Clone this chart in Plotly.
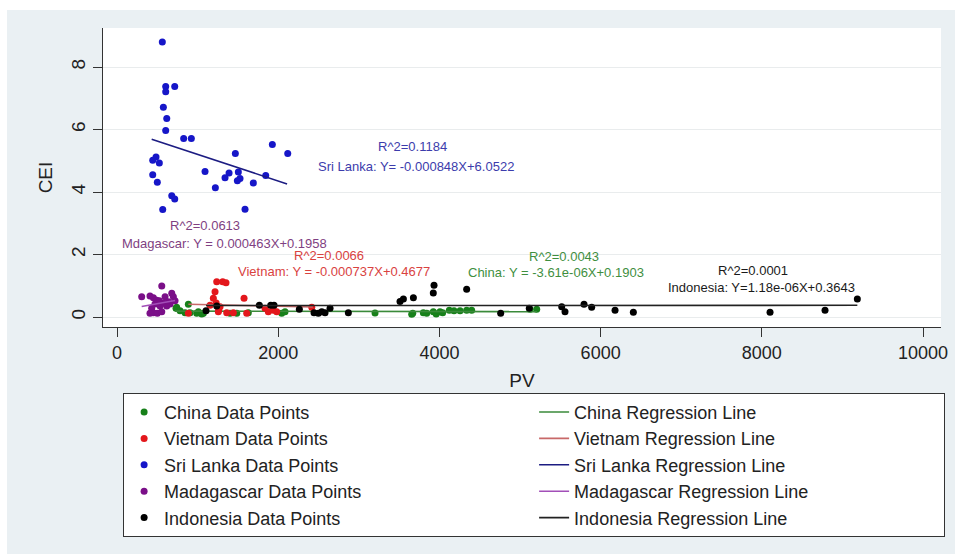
import plotly.graph_objects as go

# ---------------- data ----------------
china_pv = [732, 740, 782, 844, 885, 906, 989, 1009, 1051, 1071, 1402, 1485, 1629, 2043, 2084,
            3201, 3656, 3669, 3800, 3842, 3924, 3960, 4007, 4040, 4123, 4181, 4256, 4338, 4400, 5124, 5207]
china_cei = [0.28, 0.31, 0.20, 0.14, 0.41, 0.14, 0.12, 0.17, 0.10, 0.12, 0.12, 0.12, 0.14, 0.12, 0.17,
             0.13, 0.09, 0.12, 0.14, 0.12, 0.17, 0.10, 0.17, 0.14, 0.22, 0.20, 0.20, 0.22, 0.22, 0.25, 0.25]

vietnam_pv = [885, 1154, 1195, 1216, 1237, 1257, 1278, 1311, 1352, 1361, 1443, 1576, 1609, 1836, 1877,
              1939, 1981, 2416, 1230, 1260]
vietnam_cei = [0.12, 0.38, 0.60, 0.81, 1.13, 0.17, 0.33, 1.13, 1.10, 0.14, 0.14, 0.60, 0.12, 0.28, 0.17,
               0.22, 0.17, 0.31, 0.45, 0.22]

srilanka_pv = [562, 604, 716, 604, 575, 617, 604, 827, 922, 1927, 2118, 1468, 484, 443, 525, 1092,
               443, 1390, 1505, 1340, 1526, 1493, 1845, 1691, 500, 1220, 679, 716, 567, 1588]
srilanka_cei = [8.80, 7.38, 7.38, 7.21, 6.71, 6.35, 5.97, 5.71, 5.71, 5.52, 5.23, 5.23, 5.12, 5.02, 4.93, 4.66,
                4.55, 4.61, 4.64, 4.46, 4.43, 4.36, 4.53, 4.29, 4.31, 4.14, 3.88, 3.78, 3.44, 3.45]

madagascar_pv = [306, 409, 451, 555, 596, 679, 699, 492, 525, 637, 720, 575, 471, 658, 534, 617,
                 430, 451, 500, 555, 409]
madagascar_cei = [0.65, 0.67, 0.62, 0.99, 0.65, 0.76, 0.65, 0.54, 0.52, 0.49, 0.52, 0.44, 0.42, 0.42, 0.35, 0.35,
                  0.28, 0.14, 0.12, 0.17, 0.12]

indonesia_pv = [1104, 1237, 1766, 1907, 1948, 2262, 2444, 2498, 2540, 2581, 2643, 2870, 3511, 3553,
                3677, 3924, 3933, 4338, 4760, 5115, 5517, 5558, 5794, 5889, 6179, 6406, 8102, 8784, 9185]
indonesia_cei = [0.20, 0.35, 0.38, 0.38, 0.38, 0.25, 0.14, 0.12, 0.17, 0.14, 0.28, 0.14, 0.50, 0.58,
                 0.62, 0.77, 1.02, 0.89, 0.12, 0.28, 0.33, 0.17, 0.41, 0.31, 0.22, 0.15, 0.15, 0.22, 0.58]

# regression lines as drawn (end points)
china_fit_pv, china_fit_cei = [720, 5210], [0.187, 0.171]
vietnam_fit_pv, vietnam_fit_cei = [885, 2430], [0.41, 0.32]
srilanka_fit_pv, srilanka_fit_cei = [430, 2110], [5.69, 4.26]
madagascar_fit_pv, madagascar_fit_cei = [306, 720], [0.337, 0.529]
indonesia_fit_pv, indonesia_fit_cei = [1104, 9185], [0.366, 0.375]

# regression labels
label_r2 = ["R^2=0.0043", "R^2=0.0066", "R^2=0.1184", "R^2=0.0613", "R^2=0.0001"]
label_eq = ["China: Y = -3.61e-06X+0.1903", "Vietnam: Y = -0.000737X+0.4677",
            "Sri Lanka: Y= -0.000848X+6.0522", "Mdagascar: Y = 0.000463X+0.1958",
            "Indonesia: Y=1.18e-06X+0.3643"]
label_r2_pos = [(5546, 1.93), (2630, 1.97), (3672, 5.46), (1092, 2.93), (7891, 1.49)]
label_eq_pos = [(5447, 1.41), (2686, 1.47), (3704, 4.82), (1334, 2.36), (7990, 0.93)]

countries = ["China", "Vietnam", "Sri Lanka", "Madagascar", "Indonesia"]
x_ticks = [0, 2000, 4000, 6000, 8000, 10000]
y_ticks = [0, 2, 4, 6, 8]

point_colors = ["#17801a", "#e3171c", "#1616c8", "#7a0f88", "#000000"]
line_colors = ["#3a8a3a", "#c86868", "#1c1c82", "#a24fb8", "#222222"]
label_colors = ["#3f8f3f", "#d9423f", "#3c3cac", "#7f3f82", "#1a1a1a"]

pts = [(china_pv, china_cei), (vietnam_pv, vietnam_cei), (srilanka_pv, srilanka_cei),
       (madagascar_pv, madagascar_cei), (indonesia_pv, indonesia_cei)]
fits = [(china_fit_pv, china_fit_cei), (vietnam_fit_pv, vietnam_fit_cei),
        (srilanka_fit_pv, srilanka_fit_cei), (madagascar_fit_pv, madagascar_fit_cei),
        (indonesia_fit_pv, indonesia_fit_cei)]

FONT = "Arial, 'Liberation Sans', sans-serif"

fig = go.Figure()
for i, c in enumerate(countries):
    fig.add_trace(go.Scatter(
        x=pts[i][0], y=pts[i][1], mode="markers", name=f"{c} Data Points",
        marker=dict(color=point_colors[i], size=7, line=dict(width=0)),
    ))
    fig.add_trace(go.Scatter(
        x=fits[i][0], y=fits[i][1], mode="lines", name=f"{c} Regression Line",
        line=dict(color=line_colors[i], width=1.6),
    ))

annotations = []
for i in range(len(countries)):
    annotations.append(dict(x=label_r2_pos[i][0], y=label_r2_pos[i][1], text=label_r2[i],
                            showarrow=False, font=dict(size=13, color=label_colors[i], family=FONT)))
    annotations.append(dict(x=label_eq_pos[i][0], y=label_eq_pos[i][1], text=label_eq[i],
                            showarrow=False, font=dict(size=13, color=label_colors[i], family=FONT)))

shapes = [
    dict(type="rect", xref="paper", yref="paper", x0=-0.1146, x1=1.0167, y0=-0.76, y1=1.0602,
         fillcolor="#eaf0f3", line=dict(width=0), layer="below"),
    dict(type="rect", xref="paper", yref="paper", x0=0, x1=1, y0=0, y1=1,
         fillcolor="#ffffff", line=dict(width=0), layer="below"),
]

fig.update_layout(
    width=963, height=554,
    margin=dict(l=103, r=22, t=28, b=227, autoexpand=False),
    paper_bgcolor="#ffffff", plot_bgcolor="#ffffff",
    font=dict(family=FONT, color="#222222", size=17),
    annotations=annotations, shapes=shapes,
    showlegend=True,
    legend=dict(
        orientation="h", x=0.024, y=-0.22, xanchor="left", yanchor="top",
        bgcolor="#ffffff", bordercolor="#333333", borderwidth=1,
        font=dict(size=18, family=FONT, color="#222222"),
        entrywidth=365, entrywidthmode="pixels", traceorder="normal",
    ),
    xaxis=dict(
        range=[-174, 10223], tickvals=x_ticks, ticktext=[str(v) for v in x_ticks],
        showgrid=False, zeroline=False, showline=True, linecolor="#333333", linewidth=1.3,
        ticks="outside", ticklen=9, tickcolor="#333333", tickwidth=1.3,
        tickfont=dict(size=18), title=dict(text="PV", font=dict(size=19), standoff=11),
        automargin=False,
    ),
    yaxis=dict(
        range=[-0.32, 9.25], tickvals=y_ticks, ticktext=[str(v) for v in y_ticks],
        showgrid=True, gridcolor="#e9eced", gridwidth=1, zeroline=False,
        showline=True, linecolor="#333333", linewidth=1.3,
        ticks="outside", ticklen=9, tickcolor="#333333", tickwidth=1.3, tickangle=-90,
        tickfont=dict(size=19), title=dict(text="CEI", font=dict(size=19), standoff=10),
        automargin=False,
    ),
)

fig.write_html("out.html")
